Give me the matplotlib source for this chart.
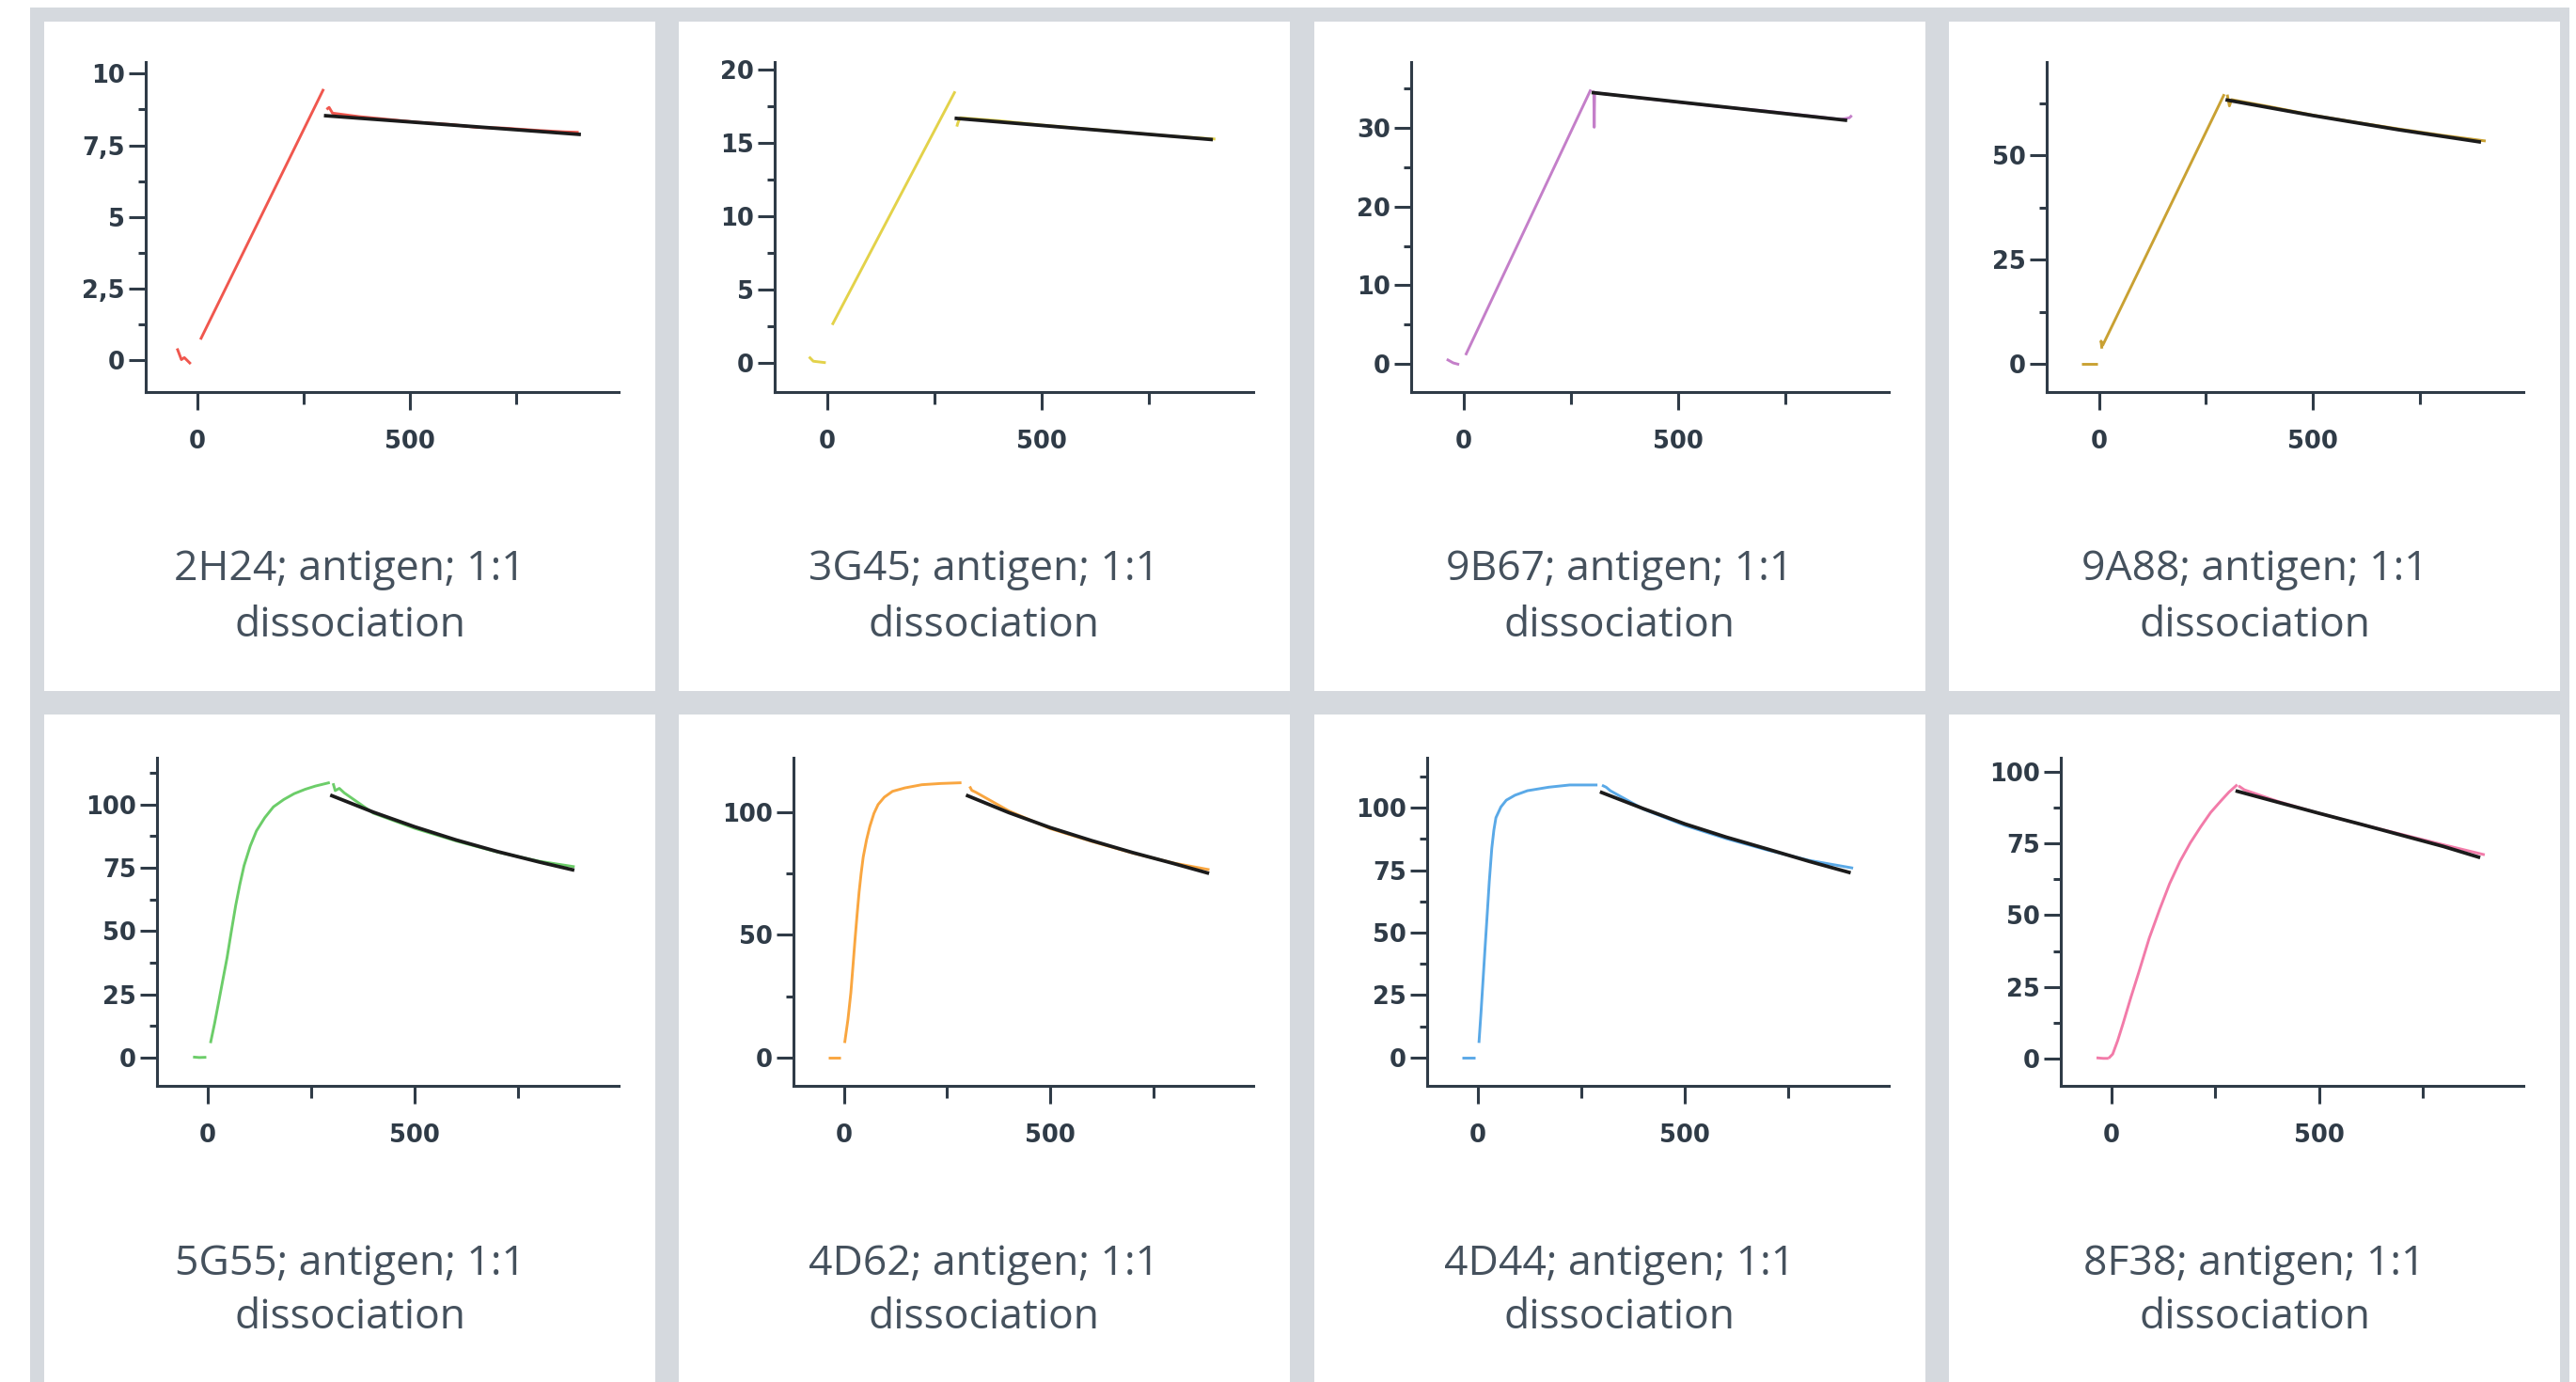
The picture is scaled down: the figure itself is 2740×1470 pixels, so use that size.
import matplotlib
matplotlib.use("Agg")
import matplotlib.pyplot as plt
from matplotlib.patches import Rectangle
from matplotlib.ticker import MultipleLocator, FuncFormatter

# ---------------------------------------------------------------------------
# Sensorgram data: response (RU) vs time (s), per antibody
# ---------------------------------------------------------------------------

SAMPLES = ["2H24", "3G45", "9B67", "9A88", "5G55", "4D62", "4D44", "8F38"]
COLORS = ["#f0574e", "#e3d24a", "#c47fc9", "#c9a133",
          "#6ccd69", "#f9a640", "#5aa9e7", "#f27ba9"]
Y_LIMITS = [(-1.1, 10.4), (-2.0, 20.5), (-3.6, 38.4), (-6.7, 72.3),
            (-11.2, 118.5), (-11.6, 122.3), (-11.4, 120.0), (-9.6, 105.0)]
Y_MAJOR = [2.5, 5, 10, 25, 25, 50, 25, 25]
X_LIMITS = (-122, 992)
X_MAJOR = 500

base_2H24 = [(-48, 0.42), (-38, 0.03), (-31, 0.10), (-16, -0.12)]
assoc_2H24 = [(7, 0.73), (297, 9.46)]
dissoc_2H24 = [(304, 8.75), (310, 8.82), (318, 8.62), (380, 8.50), (450, 8.40),
               (520, 8.30), (600, 8.22), (660, 8.12), (720, 8.10), (800, 8.02),
               (860, 7.97), (898, 7.95)]
fit_2H24 = [(302, 8.53), (899, 7.88)]

base_3G45 = [(-42, 0.40), (-32, 0.10), (-3, 0.0)]
assoc_3G45 = [(12, 2.58), (298, 18.5)]
dissoc_3G45 = [(302, 16.1), (305, 16.4), (310, 16.7), (400, 16.5), (500, 16.2),
               (600, 15.95), (700, 15.7), (800, 15.45), (904, 15.25)]
fit_3G45 = [(301, 16.66), (894, 15.22)]

base_9B67 = [(-39, 0.57), (-24, 0.11), (-10, -0.10)]
assoc_9B67 = [(5, 1.1), (297, 34.9)]
dissoc_9B67 = [(302, 34.6), (304, 34.6), (305, 30.1), (306, 34.5), (400, 33.9),
               (500, 33.3), (600, 32.7), (700, 32.2), (800, 31.6), (880, 31.1),
               (900, 31.3), (906, 31.6)]
fit_9B67 = [(303, 34.5), (891, 31.0)]

base_9A88 = [(-41, 0.0), (-3, 0.0)]
assoc_9A88 = [(7, 3.7), (5, 5.5), (9, 4.5), (293, 64.6)]
dissoc_9A88 = [(300, 64.5), (305, 61.8), (310, 63.3), (400, 61.6), (500, 59.6),
               (600, 57.9), (700, 56.3), (800, 54.8), (904, 53.4)]
fit_9A88 = [(300, 63.2), (500, 59.5), (700, 56.1), (889, 53.2)]

base_5G55 = [(-35, 0.2), (-20, 0.0), (-3, 0.1)]
assoc_5G55 = [(7, 5.7), (17, 13.5), (27, 22.1), (37, 30.8), (47, 39.4),
              (57, 49.5), (68, 60.2), (78, 68.5), (88, 75.8), (103, 83.6),
              (118, 89.6), (138, 94.8), (159, 99.1), (184, 102.0),
              (209, 104.3), (235, 106.0), (260, 107.3), (295, 108.7)]
dissoc_5G55 = [(303, 108.4), (308, 105.5), (318, 106.4), (330, 104.6),
               (400, 96.6), (500, 90.6), (600, 85.6), (700, 81.2), (800, 77.6),
               (886, 75.4)]
fit_5G55 = [(300, 103.5), (400, 97.0), (500, 91.2), (600, 86.0), (700, 81.4),
            (800, 77.3), (881, 74.2)]

base_4D62 = [(-38, 0.0), (-8, 0.0)]
assoc_4D62 = [(2, 5.9), (10, 15.5), (17, 26.4), (22, 37.0), (27, 47.9),
              (32, 58.0), (37, 67.5), (42, 75.2), (47, 81.8), (55, 88.8),
              (63, 94.3), (73, 99.6), (83, 103.2), (98, 106.2), (118, 108.6),
              (148, 110.0), (189, 111.3), (235, 111.8), (285, 112.1)]
dissoc_4D62 = [(305, 110.6), (310, 109.0), (320, 108.2), (400, 100.6),
               (500, 93.4), (600, 88.2), (700, 83.4), (800, 79.3), (886, 76.6)]
fit_4D62 = [(300, 106.8), (400, 99.9), (500, 93.8), (600, 88.5), (700, 83.6),
            (800, 79.1), (881, 75.3)]

base_4D44 = [(-38, 0.0), (-7, 0.0)]
assoc_4D44 = [(3, 5.8), (8, 18.0), (13, 31.2), (18, 44.5), (23, 57.4),
              (28, 70.5), (34, 83.7), (39, 91.0), (44, 96.0), (56, 100.3),
              (69, 103.0), (90, 105.0), (120, 106.8), (171, 108.2),
              (222, 109.1), (289, 109.1)]
dissoc_4D44 = [(300, 109.0), (310, 108.2), (320, 106.8), (400, 99.4),
               (500, 92.9), (600, 87.6), (700, 83.0), (800, 78.9), (906, 75.8)]
fit_4D44 = [(299, 106.1), (400, 99.6), (500, 93.5), (600, 88.2), (700, 83.4),
            (800, 78.5), (896, 74.1)]

base_8F38 = [(-36, 0.2), (-20, 0.0), (-7, 0.0)]
assoc_8F38 = [(-7, 0.0), (3, 1.5), (15, 6.2), (28, 12.2), (47, 21.4),
              (67, 30.6), (91, 42.0), (116, 52.0), (140, 61.0), (165, 68.8),
              (190, 75.3), (215, 80.9), (239, 85.9), (264, 90.0), (283, 93.0),
              (303, 95.6)]
dissoc_8F38 = [(306, 95.2), (320, 93.8), (400, 89.8), (500, 85.6), (600, 81.8),
               (700, 78.2), (800, 74.6), (899, 71.1)]
fit_8F38 = [(303, 93.3), (400, 89.5), (500, 85.6), (600, 81.8), (700, 77.9),
            (800, 74.0), (884, 70.3)]

BASELINE = [base_2H24, base_3G45, base_9B67, base_9A88,
            base_5G55, base_4D62, base_4D44, base_8F38]
ASSOCIATION = [assoc_2H24, assoc_3G45, assoc_9B67, assoc_9A88,
               assoc_5G55, assoc_4D62, assoc_4D44, assoc_8F38]
DISSOCIATION = [dissoc_2H24, dissoc_3G45, dissoc_9B67, dissoc_9A88,
                dissoc_5G55, dissoc_4D62, dissoc_4D44, dissoc_8F38]
FIT = [fit_2H24, fit_3G45, fit_9B67, fit_9A88,
       fit_5G55, fit_4D62, fit_4D44, fit_8F38]

# ---------------------------------------------------------------------------
# Layout (pixels on a 2740 x 1470 canvas)
# ---------------------------------------------------------------------------

W, H, DPI = 2740, 1470, 100
FRAME = "#d5d9de"
INK = "#2f3b47"
TITLE_INK = "#45515d"

COL_LEFT = [47, 722, 1398, 2073]
PANEL_W = 650
ROW_TOP = [23, 760]
ROW_BOTTOM = [735, 1470]
AX_LEFT = [108, 102, 103, 104, 120, 122, 120, 119]   # offset inside panel
AX_RIGHT = 611
AX_TOP = [66, 806]
AX_BOTTOM = [417, 1155]
TITLE_Y = [(606, 666), (1345, 1402)]


def fx(px):
    return px / W


def fy(py):
    return 1 - py / H


def _comma(v, pos):
    return f"{v:g}".replace(".", ",")


def draw_panel(fig, i):
    row, col = divmod(i, 4)
    left = COL_LEFT[col] + AX_LEFT[i]
    right = COL_LEFT[col] + AX_RIGHT
    ax = fig.add_axes([fx(left), fy(AX_BOTTOM[row]),
                       (right - left) / W, (AX_BOTTOM[row] - AX_TOP[row]) / H])
    ax.set_facecolor("none")

    color = COLORS[i]
    for series in (BASELINE[i], ASSOCIATION[i], DISSOCIATION[i]):
        t, r = zip(*series)
        ax.plot(t, r, color=color, lw=2.1, solid_capstyle="butt",
                solid_joinstyle="round")
    t, r = zip(*FIT[i])
    ax.plot(t, r, color="#1b1b1b", lw=2.7)

    ax.set_xlim(*X_LIMITS)
    ax.set_ylim(*Y_LIMITS[i])
    ax.xaxis.set_major_locator(MultipleLocator(X_MAJOR))
    ax.xaxis.set_minor_locator(MultipleLocator(X_MAJOR / 2))
    ax.yaxis.set_major_locator(MultipleLocator(Y_MAJOR[i]))
    ax.yaxis.set_minor_locator(MultipleLocator(Y_MAJOR[i] / 2))
    ax.yaxis.set_major_formatter(FuncFormatter(_comma))

    for side in ("top", "right"):
        ax.spines[side].set_visible(False)
    for side in ("left", "bottom"):
        ax.spines[side].set_color(INK)
        ax.spines[side].set_linewidth(2.2)

    ax.tick_params(axis="x", which="major", length=14, width=2.2, color=INK,
                   pad=15, labelsize=18.5, labelcolor=INK)
    ax.tick_params(axis="x", which="minor", length=9, width=2.2, color=INK)
    ax.tick_params(axis="y", which="major", length=13, width=2.2, color=INK,
                   pad=3, labelsize=18.5, labelcolor=INK)
    ax.tick_params(axis="y", which="minor", length=6, width=2.2, color=INK)
    for lab in ax.get_xticklabels() + ax.get_yticklabels():
        lab.set_fontweight("bold")

    cx = fx(COL_LEFT[col] + PANEL_W / 2)
    y1, y2 = TITLE_Y[row]
    fig.text(cx, fy(y1), f"{SAMPLES[i]}; antigen; 1:1", ha="center", va="center",
             family=["Open Sans", "DejaVu Sans"], fontsize=32, color=TITLE_INK)
    fig.text(cx, fy(y2), "dissociation", ha="center", va="center",
             family=["Open Sans", "DejaVu Sans"], fontsize=32, color=TITLE_INK)


def main():
    fig = plt.figure(figsize=(W / DPI, H / DPI), dpi=DPI, facecolor="white")

    # grey card frames, with white card interiors on top
    fig.add_artist(Rectangle((fx(32), fy(H)), fx(2733 - 32), (H - 8) / H,
                             facecolor=FRAME, edgecolor="none", zorder=-10))
    for r in range(2):
        for c in range(4):
            fig.add_artist(Rectangle((fx(COL_LEFT[c]), fy(ROW_BOTTOM[r])),
                                     PANEL_W / W,
                                     (ROW_BOTTOM[r] - ROW_TOP[r]) / H,
                                     facecolor="white", edgecolor="none",
                                     zorder=-9))

    for i in range(len(SAMPLES)):
        draw_panel(fig, i)

    fig.savefig("out.png", dpi=DPI, facecolor="white")


if __name__ == "__main__":
    main()
